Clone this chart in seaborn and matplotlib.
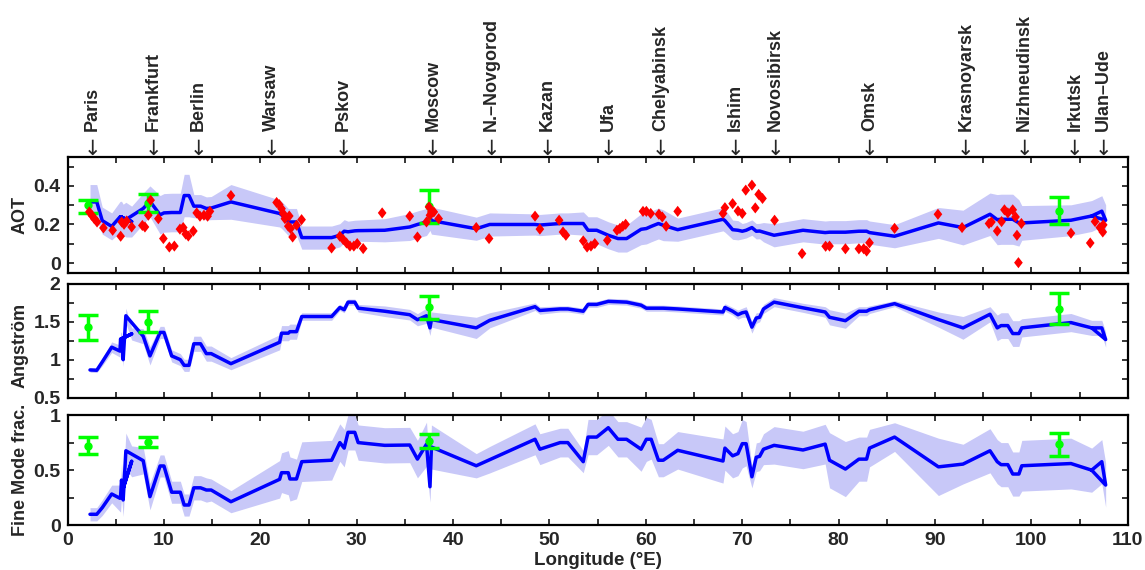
import numpy as np
import pandas as pd
import matplotlib
matplotlib.use("Agg")
import matplotlib.pyplot as plt
import matplotlib.transforms as mtransforms
from matplotlib.ticker import FixedLocator, FuncFormatter
from matplotlib.path import Path
import seaborn as sns

# ---------------- data ----------------
lon = [2.33, 3.03, 3.6, 4.58, 5.44, 5.5, 6.65, 5.5, 5.6, 5.77, 6.05, 7.85, 8.55, 9.6, 10.0, 10.8,
       11.7, 12.1, 12.6, 13.1, 13.8, 14.4, 14.9, 16.95, 22.0, 22.2, 22.9, 23.07, 23.75, 24.3, 27.4,
       28.25, 28.7, 29.1, 29.8, 30.15, 32.9, 35.5, 36.3, 37.24, 37.6, 37.75, 42.4, 43.8, 48.5, 49.0,
       51.1, 51.9, 53.5, 54.0, 54.9, 56.1, 57.1, 58.0, 59.5, 60.05, 60.55, 61.3, 61.8, 63.3, 68.0,
       68.2, 69.0, 69.55, 70.0, 70.4, 71.0, 71.45, 71.8, 72.2, 73.3, 76.3, 78.6, 79.05, 80.7, 82.1,
       82.9, 83.2, 85.8, 90.35, 92.9, 95.7, 96.45, 96.85, 97.55, 98.06, 98.7, 99.0, 104.1, 106.25,
       107.3, 107.7, 106.25]

aot = [0.317, 0.317, 0.22, 0.19, 0.239, 0.24, 0.215, 0.24, 0.24, 0.225, 0.225, 0.283, 0.32, 0.25,
       0.26, 0.262, 0.262, 0.35, 0.35, 0.295, 0.295, 0.283, 0.285, 0.317, 0.257, 0.25, 0.213, 0.213,
       0.213, 0.132, 0.132, 0.144, 0.165, 0.162, 0.167, 0.168, 0.17, 0.187, 0.20, 0.213, 0.239, 0.22,
       0.178, 0.20, 0.20, 0.197, 0.205, 0.205, 0.205, 0.17, 0.17, 0.144, 0.127, 0.127, 0.175, 0.179,
       0.19, 0.205, 0.196, 0.173, 0.227, 0.22, 0.173, 0.17, 0.165, 0.17, 0.184, 0.165, 0.166, 0.16,
       0.144, 0.17, 0.158, 0.16, 0.16, 0.165, 0.165, 0.158, 0.139, 0.208, 0.184, 0.253, 0.225, 0.227,
       0.227, 0.227, 0.208, 0.208, 0.222, 0.244, 0.269, 0.222, 0.244]

ang = [0.864, 0.86, 0.97, 1.165, 1.113, 1.27, 1.34, 1.27, 1.28, 1.0, 1.58, 1.31, 1.05, 1.36, 1.36,
       1.05, 1.0, 0.925, 0.925, 1.21, 1.21, 1.08, 1.08, 0.947, 1.23, 1.35, 1.35, 1.37, 1.37, 1.57,
       1.57, 1.69, 1.66, 1.76, 1.76, 1.68, 1.64, 1.594, 1.528, 1.58, 1.42, 1.53, 1.42, 1.52, 1.70,
       1.65, 1.67, 1.67, 1.64, 1.73, 1.73, 1.77, 1.765, 1.76, 1.72, 1.68, 1.68, 1.68, 1.68, 1.67,
       1.63, 1.69, 1.64, 1.594, 1.62, 1.63, 1.43, 1.55, 1.56, 1.67, 1.76, 1.685, 1.63, 1.56, 1.515,
       1.64, 1.64, 1.66, 1.74, 1.53, 1.42, 1.60, 1.42, 1.45, 1.45, 1.345, 1.345, 1.42, 1.49, 1.42,
       1.42, 1.266, 1.42]

fmf = [0.10, 0.10, 0.16, 0.284, 0.245, 0.26, 0.58, 0.26, 0.41, 0.23, 0.676, 0.586, 0.26, 0.538,
       0.538, 0.30, 0.30, 0.184, 0.184, 0.34, 0.34, 0.32, 0.32, 0.214, 0.417, 0.477, 0.477, 0.42,
       0.42, 0.577, 0.59, 0.75, 0.70, 0.843, 0.843, 0.75, 0.725, 0.728, 0.60, 0.735, 0.35, 0.71,
       0.54, 0.595, 0.78, 0.69, 0.75, 0.75, 0.577, 0.80, 0.80, 0.885, 0.78, 0.78, 0.69, 0.78, 0.78,
       0.59, 0.59, 0.68, 0.583, 0.70, 0.63, 0.65, 0.74, 0.74, 0.44, 0.617, 0.625, 0.69, 0.725, 0.683,
       0.736, 0.59, 0.51, 0.60, 0.60, 0.70, 0.80, 0.53, 0.555, 0.676, 0.577, 0.55, 0.55, 0.465,
       0.465, 0.54, 0.56, 0.50, 0.577, 0.365, 0.50]

aot_sd = [0.09, 0.09, 0.07, 0.07, 0.08, 0.08, 0.08, 0.08, 0.08, 0.08, 0.09, 0.08, 0.08, 0.1, 0.1,
          0.1, 0.1, 0.11, 0.11, 0.06, 0.06, 0.06, 0.06, 0.09, 0.07, 0.07, 0.07, 0.07, 0.07, 0.06,
          0.06, 0.06, 0.06, 0.055, 0.055, 0.055, 0.06, 0.07, 0.07, 0.07, 0.07, 0.07, 0.06, 0.06,
          0.055, 0.055, 0.055, 0.055, 0.06, 0.07, 0.07, 0.07, 0.07, 0.07, 0.08, 0.08, 0.08, 0.08,
          0.08, 0.06, 0.06, 0.06, 0.05, 0.05, 0.04, 0.04, 0.04, 0.04, 0.04, 0.05, 0.06, 0.06, 0.06,
          0.06, 0.06, 0.06, 0.06, 0.06, 0.06, 0.08, 0.09, 0.11, 0.13, 0.13, 0.13, 0.13, 0.12, 0.09,
          0.08, 0.08, 0.08, 0.08, 0.08]

ang_sd = [0.03, 0.03, 0.05, 0.07, 0.08, 0.08, 0.08, 0.08, 0.09, 0.09, 0.1, 0.1, 0.12, 0.08, 0.08,
          0.08, 0.08, 0.08, 0.08, 0.1, 0.1, 0.1, 0.1, 0.08, 0.1, 0.1, 0.1, 0.1, 0.1, 0.05, 0.05,
          0.04, 0.04, 0.04, 0.04, 0.05, 0.07, 0.07, 0.08, 0.1, 0.1, 0.1, 0.14, 0.1, 0.05, 0.05,
          0.04, 0.04, 0.04, 0.04, 0.04, 0.04, 0.04, 0.04, 0.04, 0.04, 0.04, 0.04, 0.04, 0.04, 0.04,
          0.05, 0.05, 0.06, 0.06, 0.07, 0.08, 0.07, 0.06, 0.06, 0.06, 0.06, 0.07, 0.1, 0.1, 0.06,
          0.06, 0.05, 0.04, 0.1, 0.15, 0.1, 0.17, 0.17, 0.17, 0.17, 0.17, 0.12, 0.12, 0.1, 0.1,
          0.1, 0.1]

fmf_sd = [0.06, 0.06, 0.07, 0.08, 0.12, 0.14, 0.14, 0.14, 0.15, 0.15, 0.16, 0.12, 0.12, 0.1, 0.1,
          0.1, 0.1, 0.1, 0.1, 0.11, 0.11, 0.11, 0.1, 0.1, 0.17, 0.18, 0.2, 0.2, 0.18, 0.18, 0.18,
          0.17, 0.17, 0.16, 0.16, 0.16, 0.16, 0.16, 0.17, 0.2, 0.14, 0.2, 0.11, 0.12, 0.14, 0.14,
          0.13, 0.13, 0.1, 0.16, 0.16, 0.16, 0.16, 0.16, 0.2, 0.2, 0.18, 0.15, 0.15, 0.17, 0.2,
          0.2, 0.2, 0.2, 0.22, 0.2, 0.1, 0.13, 0.13, 0.14, 0.17, 0.17, 0.18, 0.25, 0.25, 0.2, 0.2,
          0.17, 0.13, 0.26, 0.18, 0.2, 0.2, 0.2, 0.2, 0.2, 0.2, 0.23, 0.23, 0.2, 0.2, 0.2, 0.2]

# red diamonds (individual AOT measurements)
pt_lon = [2.26, 2.54, 2.78, 3.06, 3.72, 4.68, 5.51, 5.62, 5.86, 6.13, 6.65, 7.76, 8.03, 8.38,
          8.62, 9.42, 9.94, 10.56, 11.08, 11.66, 12.0, 12.26, 12.53, 13.05, 13.4, 13.74, 14.15,
          14.53, 14.77, 16.95, 21.69, 21.96, 22.2, 22.37, 22.55, 23.0, 22.9, 23.14, 23.35, 23.76,
          24.28, 27.39, 28.25, 28.6, 28.94, 29.3, 29.7, 30.05, 30.67, 32.64, 35.5, 36.3, 37.24,
          37.5, 37.75, 38.0, 38.5, 37.6, 42.4, 43.73, 48.5, 49.0, 51.0, 51.4, 51.7, 53.5, 53.9,
          54.3, 54.7, 56.0, 57.0, 57.3, 57.6, 57.9, 59.7, 60.05, 60.5, 61.35, 61.7, 62.1, 63.3,
          68.0, 68.2, 69.0, 69.55, 70.0, 70.36, 71.0, 71.35, 71.7, 72.1, 73.35, 76.2, 78.65,
          79.05, 80.7, 82.1, 82.6, 82.9, 83.2, 85.8, 90.3, 92.8, 95.6, 95.85, 96.45, 96.9, 97.2,
          97.55, 98.06, 98.35, 98.5, 98.65, 98.96, 104.1, 106.1, 106.6, 107.1, 107.4, 107.45]
pt_aot = [0.265, 0.246, 0.230, 0.213, 0.182, 0.170, 0.139, 0.213, 0.201, 0.218, 0.187, 0.195,
          0.187, 0.248, 0.326, 0.230, 0.127, 0.083, 0.088, 0.176, 0.184, 0.150, 0.140, 0.166,
          0.26, 0.243, 0.248, 0.243, 0.268, 0.35, 0.314, 0.303, 0.282, 0.257, 0.230, 0.244,
          0.191, 0.179, 0.135, 0.196, 0.225, 0.078, 0.139, 0.122, 0.104, 0.088, 0.088, 0.101,
          0.075, 0.26, 0.243, 0.135, 0.213, 0.291, 0.265, 0.265, 0.23, 0.248, 0.184, 0.127,
          0.243, 0.176, 0.222, 0.161, 0.144, 0.115, 0.083, 0.088, 0.101, 0.118, 0.170, 0.179,
          0.191, 0.201, 0.268, 0.268, 0.257, 0.253, 0.239, 0.191, 0.268, 0.257, 0.287, 0.308,
          0.270, 0.257, 0.378, 0.404, 0.286, 0.356, 0.335, 0.222, 0.049, 0.087, 0.088, 0.074,
          0.074, 0.074, 0.062, 0.105, 0.18, 0.253, 0.184, 0.205, 0.213, 0.166, 0.215, 0.276,
          0.260, 0.276, 0.239, 0.144, 0.002, 0.205, 0.155, 0.104, 0.215, 0.184, 0.161, 0.198]

# green error bars (reference stations)
ref_lon = [2.1, 8.35, 37.5, 102.9]
ref_aot = [0.30, 0.31, 0.295, 0.27]
ref_aot_lo = [0.26, 0.265, 0.208, 0.20]
ref_aot_hi = [0.326, 0.36, 0.381, 0.343]
ref_ang = [1.43, 1.498, 1.69, 1.672]
ref_ang_lo = [1.266, 1.362, 1.537, 1.476]
ref_ang_hi = [1.594, 1.646, 1.843, 1.878]
ref_fmf = [0.722, 0.752, 0.767, 0.734]
ref_fmf_lo = [0.646, 0.707, 0.704, 0.631]
ref_fmf_hi = [0.803, 0.803, 0.828, 0.834]

cities = ["Paris", "Frankfurt", "Berlin", "Warsaw", "Pskov", "Moscow", "N.–Novgorod", "Kazan",
          "Ufa", "Chelyabinsk", "Ishim", "Novosibirsk", "Omsk", "Krasnoyarsk", "Nizhneudinsk",
          "Irkutsk", "Ulan–Ude"]
city_lon = [2.6, 8.9, 13.6, 21.2, 28.6, 37.9, 44.0, 49.8, 56.1, 61.5, 69.3, 73.4, 83.2, 93.2,
            99.3, 104.5, 107.5]

x_ticks = [0, 10, 20, 30, 40, 50, 60, 70, 80, 90, 100, 110]

# ---------------- style ----------------
sns.set_theme(style="ticks")
plt.rcParams["font.family"] = ["Liberation Sans", "DejaVu Sans"]
plt.rcParams["font.weight"] = "bold"
plt.rcParams["axes.labelweight"] = "bold"

LINE = "#0000ff"
BAND = "#c8c8f8"
GREEN = "#00ff00"
DIAMOND = Path([(0, 1), (0.78, 0), (0, -1), (-0.78, 0), (0, 1)],
               [Path.MOVETO, Path.LINETO, Path.LINETO, Path.LINETO, Path.CLOSEPOLY])

df = pd.DataFrame({"lon": lon, "aot": aot, "ang": ang, "fmf": fmf,
                   "aot_sd": aot_sd, "ang_sd": ang_sd, "fmf_sd": fmf_sd})
order = np.argsort(np.asarray(lon), kind="stable")
dfs = df.iloc[order]
pts = pd.DataFrame({"lon": pt_lon, "aot": pt_aot})

fig = plt.figure(figsize=(11.45, 5.7), dpi=100)
L, W = 0.059, 0.926
ax1 = fig.add_axes([L, 0.5216, W, 0.2030])
ax2 = fig.add_axes([L, 0.3026, W, 0.1992])
ax3 = fig.add_axes([L, 0.0784, W, 0.1935])

fmt = FuncFormatter(lambda v, p: "%g" % v)

panels = [
    (ax1, "aot", "aot_sd", (-0.05, 0.55), [0, 0.2, 0.4], np.arange(-0.0, 0.55, 0.1),
     "AOT", 0.5, ref_aot, ref_aot_lo, ref_aot_hi),
    (ax2, "ang", "ang_sd", (0.5, 2.0), [0.5, 1, 1.5, 2], np.arange(0.5, 2.01, 0.25),
     "Angström", 0.462, ref_ang, ref_ang_lo, ref_ang_hi),
    (ax3, "fmf", "fmf_sd", (0.0, 1.0), [0, 0.5, 1], np.arange(0, 1.01, 0.25),
     "Fine Mode frac.", 0.5, ref_fmf, ref_fmf_lo, ref_fmf_hi),
]

for ax, col, sdcol, ylim, yt, ytm, ylab, ylab_y, rc, rlo, rhi in panels:
    ax.fill_between(dfs["lon"], dfs[col] - dfs[sdcol], dfs[col] + dfs[sdcol],
                    color=BAND, linewidth=0, zorder=1)
    sns.lineplot(data=df, x="lon", y=col, sort=False, estimator=None, color=LINE,
                 linewidth=2.5, ax=ax, zorder=2, legend=False)
    rc_a = np.asarray(rc)
    yerr = [rc_a - np.asarray(rlo), np.asarray(rhi) - rc_a]
    ax.errorbar(ref_lon, rc, yerr=yerr, fmt="o", color=GREEN, ms=5, lw=2.5,
                capsize=7, capthick=2.5, zorder=3)
    ax.set_xlim(0, 110)
    ax.set_ylim(*ylim)
    ax.xaxis.set_major_locator(FixedLocator(x_ticks))
    ax.xaxis.set_minor_locator(FixedLocator(np.arange(5, 110, 10)))
    ax.yaxis.set_major_locator(FixedLocator(yt))
    ax.yaxis.set_minor_locator(FixedLocator([v for v in ytm if v not in yt]))
    ax.yaxis.set_major_formatter(fmt)
    ax.xaxis.set_major_formatter(fmt)
    ax.tick_params(which="both", direction="in", top=True, right=True,
                   length=4.5, width=1.3, labelsize=14, pad=5)
    for s in ax.spines.values():
        s.set_linewidth(1.6)
        s.set_color("black")
    ax.set_ylabel(ylab, fontsize=13, fontweight="bold", va="center")
    ax.yaxis.set_label_coords(-0.0448, ylab_y)
    ax.set_xlabel("")
    for lab in ax.get_xticklabels() + ax.get_yticklabels():
        lab.set_fontweight("bold")

sns.scatterplot(data=pts, x="lon", y="aot", marker=DIAMOND, s=64, color="red",
                edgecolor="none", ax=ax1, zorder=4, legend=False)
ax1.set_xlabel("")
ax1.set_ylabel("AOT", fontsize=13, fontweight="bold", va="center")
ax1.yaxis.set_label_coords(-0.0448, 0.5)

ax1.tick_params(labelbottom=False)
ax2.tick_params(labelbottom=False)
ax3.set_xlabel("Longitude (°E)", fontsize=13.5, fontweight="bold", labelpad=2)

trans = mtransforms.blended_transform_factory(ax1.transData, ax1.transAxes)
for name, x in zip(cities, city_lon):
    ax1.text(x, 1.022, "↓", transform=trans, ha="center", va="baseline",
             fontsize=15, fontweight="normal", family=["DejaVu Sans"])
    ax1.text(x, 1.225, name, transform=trans, ha="center", va="bottom",
             rotation=90, fontsize=13, fontweight="bold")

fig.savefig("out.png", dpi=100)
